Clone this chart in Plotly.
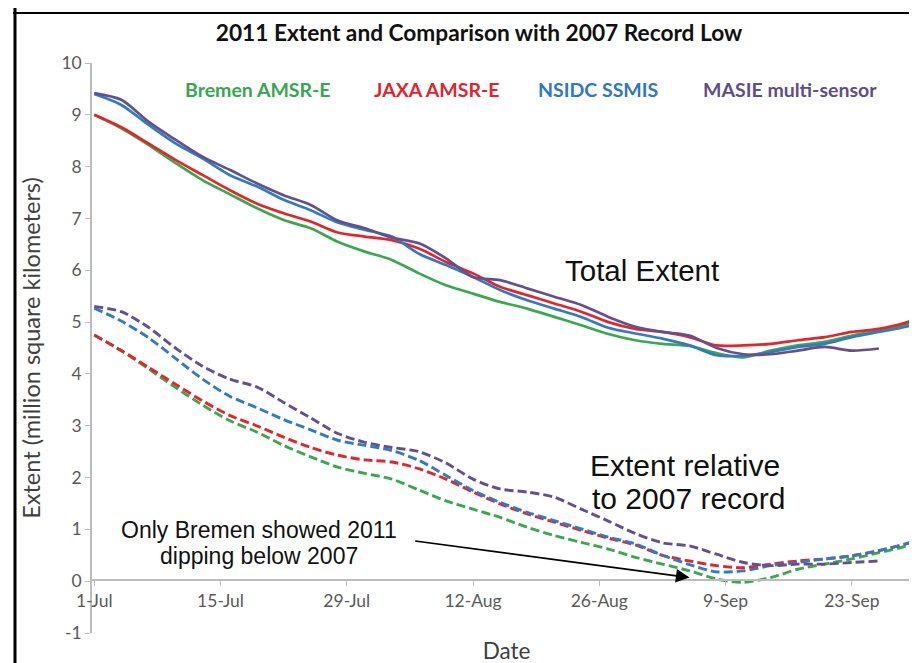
import plotly.graph_objects as go

# ---------------- data ----------------
dates = ["2011-07-01", "2011-07-04", "2011-07-07", "2011-07-10", "2011-07-13", "2011-07-16",
         "2011-07-19", "2011-07-22", "2011-07-25", "2011-07-28", "2011-07-31", "2011-08-03",
         "2011-08-06", "2011-08-09", "2011-08-12", "2011-08-15", "2011-08-18", "2011-08-21",
         "2011-08-24", "2011-08-27", "2011-08-30", "2011-09-02", "2011-09-05", "2011-09-08",
         "2011-09-11", "2011-09-14", "2011-09-17", "2011-09-20", "2011-09-23", "2011-09-26",
         "2011-09-29", "2011-09-30"]

# Total extent (million km^2)
bremen_total = [9.00, 8.74, 8.42, 8.07, 7.74, 7.47, 7.20, 6.97, 6.81, 6.55, 6.36, 6.20,
                5.94, 5.71, 5.55, 5.39, 5.26, 5.10, 4.94, 4.77, 4.65, 4.58, 4.54, 4.40,
                4.32, 4.45, 4.55, 4.62, 4.74, 4.84, 4.95, 4.99]
jaxa_total = [9.00, 8.76, 8.45, 8.13, 7.84, 7.55, 7.29, 7.10, 6.94, 6.73, 6.65, 6.58,
              6.42, 6.16, 5.94, 5.68, 5.52, 5.36, 5.20, 5.00, 4.87, 4.81, 4.71, 4.55,
              4.55, 4.58, 4.65, 4.71, 4.81, 4.87, 4.99, 5.06]
nsidc_total = [9.40, 9.19, 8.81, 8.45, 8.16, 7.84, 7.62, 7.36, 7.16, 6.92, 6.78, 6.65,
               6.32, 6.10, 5.87, 5.62, 5.42, 5.26, 5.10, 4.89, 4.78, 4.68, 4.55, 4.36,
               4.35, 4.42, 4.52, 4.58, 4.71, 4.81, 4.91, 4.97]
masie_total = [9.42, 9.29, 8.87, 8.52, 8.19, 7.94, 7.68, 7.45, 7.26, 6.96, 6.81, 6.63,
               6.52, 6.23, 5.87, 5.81, 5.65, 5.49, 5.33, 5.10, 4.91, 4.81, 4.74, 4.50,
               4.38, 4.38, 4.45, 4.52, 4.45, 4.49]

# Extent relative to 2007 record (million km^2)
bremen_rel = [4.75, 4.45, 4.10, 3.74, 3.40, 3.10, 2.88, 2.62, 2.40, 2.20, 2.08, 1.97,
              1.76, 1.55, 1.39, 1.23, 1.04, 0.88, 0.75, 0.62, 0.46, 0.33, 0.20, 0.04,
              -0.02, 0.07, 0.23, 0.33, 0.43, 0.55, 0.68, 0.78]
jaxa_rel = [4.75, 4.45, 4.13, 3.80, 3.48, 3.20, 3.00, 2.78, 2.58, 2.43, 2.34, 2.30,
            2.17, 1.97, 1.72, 1.49, 1.30, 1.14, 0.98, 0.83, 0.70, 0.50, 0.39, 0.30,
            0.26, 0.33, 0.39, 0.43, 0.49, 0.59, 0.72, 0.78]
nsidc_rel = [5.27, 5.02, 4.70, 4.30, 3.90, 3.57, 3.35, 3.12, 2.92, 2.72, 2.62, 2.52,
             2.33, 2.04, 1.75, 1.52, 1.33, 1.17, 1.01, 0.85, 0.72, 0.50, 0.32, 0.18,
             0.20, 0.30, 0.36, 0.43, 0.49, 0.59, 0.72, 0.78]
masie_rel = [5.30, 5.20, 4.90, 4.50, 4.15, 3.90, 3.75, 3.45, 3.15, 2.85, 2.68, 2.58,
             2.50, 2.28, 1.97, 1.78, 1.72, 1.62, 1.39, 1.16, 0.92, 0.74, 0.68, 0.52,
             0.36, 0.30, 0.33, 0.33, 0.36, 0.39]

x_tick_dates = ["2011-07-01", "2011-07-15", "2011-07-29", "2011-08-12",
                "2011-08-26", "2011-09-09", "2011-09-23"]
x_tick_labels = ["1-Jul", "15-Jul", "29-Jul", "12-Aug", "26-Aug", "9-Sep", "23-Sep"]
y_tick_vals = [-1, 0, 1, 2, 3, 4, 5, 6, 7, 8, 9, 10]
y_tick_labels = ["-1", "0", "1", "2", "3", "4", "5", "6", "7", "8", "9", "10"]

series_names = ["Bremen AMSR-E", "JAXA AMSR-E", "NSIDC SSMIS", "MASIE multi-sensor"]

# ---------------- styling ----------------
W, H = 917, 663
L, R, T, B = 84, 4, 55, 38
PW, PH = W - L - R, H - T - B

def px(x):
    return (x - L) / PW

def py(y):
    return (H - B - y) / PH

line_colors = ["#3aa84e", "#e4262c", "#2f7cc4", "#654f91"]
text_colors = ["#37a74f", "#e2242c", "#2d79c3", "#5f4c8c"]

fig = go.Figure()
totals = [bremen_total, jaxa_total, nsidc_total, masie_total]
rels = [bremen_rel, jaxa_rel, nsidc_rel, masie_rel]

for name, vals, col in zip(series_names, totals, line_colors):
    fig.add_trace(go.Scatter(x=dates[:len(vals)], y=vals, mode="lines", name=name,
                             line=dict(color=col, width=2.7, shape="spline", smoothing=0.8),
                             showlegend=False))
for name, vals, col in zip(series_names, rels, line_colors):
    fig.add_trace(go.Scatter(x=dates[:len(vals)], y=vals, mode="lines", name=name + " (rel. 2007)",
                             line=dict(color=col, width=2.9, dash="9px,4px", shape="spline",
                                       smoothing=0.8),
                             showlegend=False))

axis_gray = "#bcbcbc"
lato = "Lato, Arial, sans-serif"
tick_font = dict(family=lato, size=17.5, color="#595959")

fig.update_layout(
    width=W, height=H,
    margin=dict(l=L, r=R, t=T, b=B, autoexpand=False),
    paper_bgcolor="white", plot_bgcolor="white",
    title=dict(text="<b>2011 Extent and Comparison with 2007 Record Low</b>",
               x=px(471), xref="paper", xanchor="center",
               y=1 - 25 / H, yref="container", yanchor="middle",
               font=dict(family=lato, size=22.7, color="#111111")),
    xaxis=dict(type="date", range=["2011-06-30 18:00", "2011-09-30 16:00"],
               anchor="free", position=py(572),
               showline=True, linecolor=axis_gray, linewidth=1.5,
               ticks="outside", ticklen=5, tickcolor=axis_gray,
               tickvals=x_tick_dates, ticktext=x_tick_labels,
               tickfont=tick_font, showgrid=False, zeroline=False,
               title=dict(text="Date", standoff=32,
                          font=dict(family=lato, size=22.5, color="#404040"))),
    yaxis=dict(range=[-1, 10], showline=True, linecolor=axis_gray, linewidth=1.5,
               ticks="outside", ticklen=5, tickcolor=axis_gray,
               tickvals=y_tick_vals, ticktext=y_tick_labels,
               tickfont=tick_font, showgrid=False, zeroline=False,
               title=dict(text="Extent (million square kilometers)", standoff=14,
                          font=dict(family=lato, size=23.5, color="#404040"))),
)

# series labels (colored text in the plot)
label_pos = [(250, 81), (428, 81), (590, 81), (782, 81)]
for name, col, (lx, ly) in zip(series_names, text_colors, label_pos):
    fig.add_annotation(text="<b>" + name + "</b>", x=px(lx), y=py(ly), xref="paper", yref="paper",
                       showarrow=False, xanchor="center", yanchor="middle",
                       font=dict(family=lato, size=19.5, color=col))

arial = "Liberation Sans, Arial, sans-serif"
fig.add_annotation(text="Total Extent", x=px(634), y=py(262), xref="paper", yref="paper",
                   showarrow=False, xanchor="center", yanchor="middle",
                   font=dict(family=arial, size=29.5, color="#111111"))
fig.add_annotation(text="Extent relative", x=px(677), y=py(457), xref="paper", yref="paper",
                   showarrow=False, xanchor="center", yanchor="middle",
                   font=dict(family=arial, size=30, color="#111111"))
fig.add_annotation(text="to 2007 record", x=px(680), y=py(491), xref="paper", yref="paper",
                   showarrow=False, xanchor="center", yanchor="middle",
                   font=dict(family=arial, size=30, color="#111111"))
fig.add_annotation(text="Only Bremen showed 2011", x=px(251), y=py(522), xref="paper", yref="paper",
                   showarrow=False, xanchor="center", yanchor="middle",
                   font=dict(family=arial, size=23, color="#111111"))
fig.add_annotation(text="dipping below 2007", x=px(251), y=py(548), xref="paper", yref="paper",
                   showarrow=False, xanchor="center", yanchor="middle",
                   font=dict(family=arial, size=23, color="#111111"))

# arrow pointing at Bremen's dip
fig.add_annotation(x="2011-09-05", y=0.07, xref="x", yref="y",
                   ax="2011-08-05 10:00", ay=0.78, axref="x", ayref="y",
                   text="", showarrow=True, arrowhead=2, arrowsize=1.7, arrowwidth=1.6,
                   arrowcolor="#000000")

# outer frame (left and top edges of the original picture)
fig.add_shape(type="line", xref="paper", yref="paper", x0=px(7), x1=px(7), y0=py(0), y1=py(H),
              line=dict(color="#000000", width=3))
fig.add_shape(type="line", xref="paper", yref="paper", x0=px(5), x1=px(W), y0=py(5), y1=py(5),
              line=dict(color="#000000", width=2))

fig.write_html("out.html")
